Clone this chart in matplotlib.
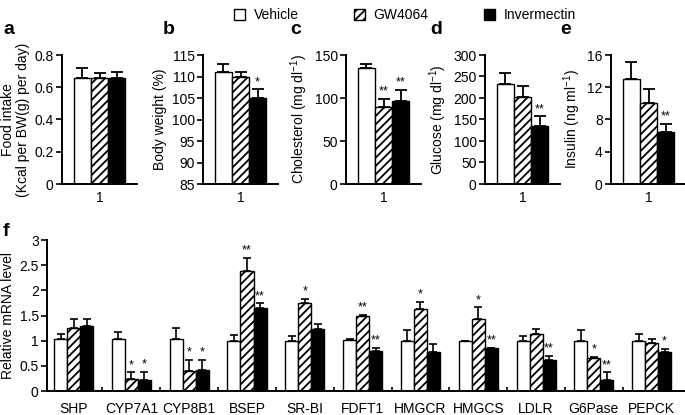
import numpy as np
import matplotlib
matplotlib.use("Agg")
from matplotlib import pyplot as plt
from matplotlib.patches import Patch

plt.rcParams['font.family'] = ['Liberation Sans', 'DejaVu Sans']
plt.rcParams['hatch.linewidth'] = 1.3
plt.rcParams['mathtext.default'] = 'regular'

# groups
groups = ['Vehicle', 'GW4064', 'Invermectin']
faces = ['white', 'white', 'black']
hatches = ['', '////', '']

# top panels (a-e)
panel_letters = ['a', 'b', 'c', 'd', 'e']
panel_ylabels = ['Food intake\n(Kcal per BW(g) per day)', 'Body weight (%)',
                 'Cholesterol (mg dl$^{-1}$)', 'Glucose (mg dl$^{-1}$)', 'Insulin (ng ml$^{-1}$)']
panel_means = [[0.66, 0.66, 0.66], [111, 110, 105], [135, 90, 96], [233, 202, 135], [13, 10, 6.5]]
panel_errs = [[0.06, 0.03, 0.035], [2, 1, 2], [5, 9, 13], [25, 27, 22], [2.1, 1.8, 1.0]]
panel_stars = [['', '', ''], ['', '', '*'], ['', '**', '**'], ['', '', '**'], ['', '', '**']]
panel_ylims = [(0, 0.8), (85, 115), (0, 150), (0, 300), (0, 16)]
panel_yticks = [[0, 0.2, 0.4, 0.6, 0.8], [85, 90, 95, 100, 105, 110, 115], [0, 50, 100, 150],
                [0, 50, 100, 150, 200, 250, 300], [0, 4, 8, 12, 16]]
panel_yticklabels = [['0', '0.2', '0.4', '0.6', '0.8'], None, None, None, None]
panel_left_px = [62, 203, 346, 485, 611]
letter_x_px = [3, 163, 290, 430, 560]

# bottom panel (f)
genes = ['SHP', 'CYP7A1', 'CYP8B1', 'BSEP', 'SR-BI', 'FDFT1', 'HMGCR', 'HMGCS', 'LDLR', 'G6Pase', 'PEPCK']
veh = [1.03, 1.03, 1.03, 1.0, 1.0, 1.01, 1.0, 1.0, 1.0, 1.0, 1.0]
veh_err = [0.10, 0.15, 0.22, 0.11, 0.09, 0.02, 0.22, 0.0, 0.10, 0.21, 0.14]
gw = [1.26, 0.24, 0.40, 2.38, 1.74, 1.50, 1.63, 1.44, 1.14, 0.66, 0.95]
gw_err = [0.18, 0.13, 0.22, 0.27, 0.09, 0.01, 0.14, 0.22, 0.09, 0.01, 0.08]
iv = [1.29, 0.22, 0.42, 1.65, 1.23, 0.79, 0.78, 0.85, 0.62, 0.22, 0.78]
iv_err = [0.15, 0.16, 0.20, 0.09, 0.11, 0.07, 0.15, 0.01, 0.07, 0.15, 0.06]
gw_stars = ['', '*', '*', '**', '*', '**', '*', '*', '', '*', '']
iv_stars = ['', '*', '*', '**', '', '**', '', '**', '**', '**', '*']

W, H = 685, 415
fig = plt.figure(figsize=(W / 100, H / 100), dpi=100)


def style_axes(ax):
    for s in ['top', 'right']:
        ax.spines[s].set_visible(False)
    for s in ['left', 'bottom']:
        ax.spines[s].set_linewidth(1.4)
    ax.tick_params(axis='y', direction='out', length=4, width=1.2, labelsize=10, pad=2)


# top row
for i in range(5):
    ax = fig.add_axes([panel_left_px[i] / W, (H - 184) / H, 75 / W, 129 / H])
    style_axes(ax)
    x = np.array([-1, 0, 1])
    lo = panel_ylims[i][0]
    for j in range(3):
        ax.bar(x[j], panel_means[i][j] - lo, bottom=lo, width=1.0, color=faces[j], edgecolor='black',
               linewidth=1.0, hatch=hatches[j],
               yerr=[[0], [panel_errs[i][j]]], capsize=4,
               error_kw=dict(elinewidth=1.3, capthick=1.3, ecolor='black'))
        if panel_stars[i][j]:
            ax.annotate(panel_stars[i][j], (x[j], panel_means[i][j] + panel_errs[i][j]),
                        xytext=(0, 1), textcoords='offset points', ha='center', va='bottom', fontsize=9)
    ax.set_xlim(-2.2, 2.2)
    ax.set_ylim(*panel_ylims[i])
    ax.set_yticks(panel_yticks[i])
    if panel_yticklabels[i]:
        ax.set_yticklabels(panel_yticklabels[i])
    ax.set_xticks([0])
    ax.set_xticklabels(['1'])
    ax.tick_params(axis='x', length=0, labelsize=10, pad=5)
    ax.set_ylabel(panel_ylabels[i], fontsize=10, labelpad=3, linespacing=1.1)
    fig.text(letter_x_px[i] / W, (H - 38) / H, panel_letters[i],
             fontsize=14, fontweight='bold', va='bottom', ha='left')

# bottom panel
axf = fig.add_axes([47 / W, (H - 391) / H, 637 / W, 151 / H])
style_axes(axf)
xg = np.arange(len(genes))
bw = 0.225
series = [(veh, veh_err, None), (gw, gw_err, gw_stars), (iv, iv_err, iv_stars)]
for j, (vals, errs, stars) in enumerate(series):
    pos = xg + (j - 1) * bw
    axf.bar(pos, vals, width=bw, color=faces[j], edgecolor='black', linewidth=1.0, hatch=hatches[j],
            yerr=[np.zeros(len(errs)), errs], capsize=3,
            error_kw=dict(elinewidth=1.2, capthick=1.2, ecolor='black'))
    if stars:
        for k, s in enumerate(stars):
            if s:
                axf.annotate(s, (pos[k], vals[k] + errs[k]), xytext=(0, 1), textcoords='offset points',
                             ha='center', va='bottom', fontsize=9)
axf.set_xlim(-0.46, 10.56)
axf.set_ylim(0, 3)
axf.set_yticks([0, 0.5, 1, 1.5, 2, 2.5, 3])
axf.set_yticklabels(['0', '0.5', '1', '1.5', '2', '2.5', '3'])
axf.set_xticks(xg)
axf.set_xticklabels(genes)
axf.set_xticks(xg[:-1] + 0.5, minor=True)
axf.tick_params(axis='x', which='major', length=0, labelsize=10, pad=8)
axf.tick_params(axis='x', which='minor', direction='in', length=3, width=1.2)
axf.set_ylabel('Relative mRNA level', fontsize=10, labelpad=3)
fig.text(3 / W, (H - 240) / H, 'f', fontsize=14, fontweight='bold', va='bottom', ha='left')

# legend
handles = [Patch(facecolor=faces[j], edgecolor='black', hatch=hatches[j], linewidth=1.0) for j in range(3)]
fig.legend(handles, groups, loc='upper center', bbox_to_anchor=(405 / W, 1.01), ncol=3, frameon=False,
           fontsize=10, handlelength=0.8, handleheight=0.8, handletextpad=0.6, columnspacing=4.0)

fig.savefig('out.png', dpi=100)
